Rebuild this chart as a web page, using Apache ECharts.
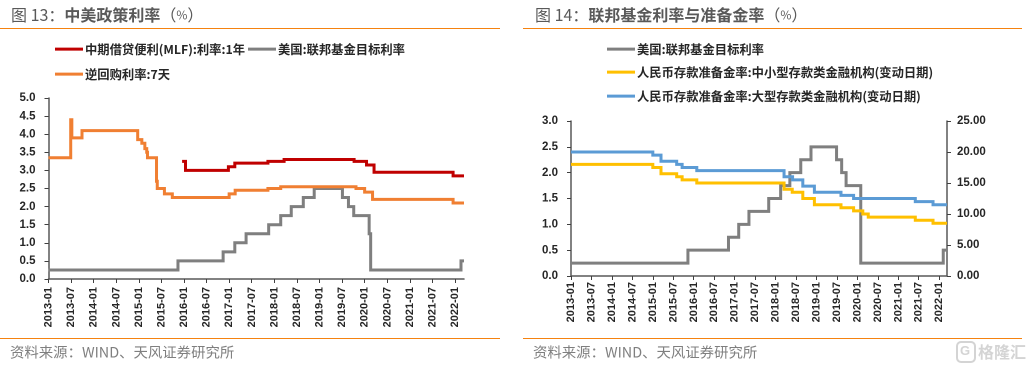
<!DOCTYPE html>
<html><head><meta charset="utf-8">
<style>html,body{margin:0;padding:0;background:#fff}#c{width:1031px;height:368px}</style>
<script src="https://cdn.jsdelivr.net/npm/echarts@6/dist/echarts.min.js"></script>
</head><body><div id="c"></div>
<script>
// Tick labels (one every six months)
const xTickLabels = ['2013-01','2013-07','2014-01','2014-07','2015-01','2015-07','2016-01','2016-07','2017-01','2017-07','2018-01','2018-07','2019-01','2019-07','2020-01','2020-07','2021-01','2021-07','2022-01'];
const xTickPositions = xTickLabels.map(l => (+l.slice(0,4) - 2013) * 12 + (+l.slice(5) - 1));

// Step series: [months since 2013-01, value]
const mlf = [[35.5,3.25],[36.4,3.0],[47.8,3.1],[49.5,3.2],[58.3,3.25],[62.6,3.3],[81.2,3.25],[84.5,3.15],[86.5,2.95],[107.5,2.85],[110.4,2.85]];
const fedLeft = [[0,0.25],[34.4,0.5],[46.4,0.75],[49.5,1.0],[52.5,1.25],[58.5,1.5],[61.7,1.75],[64.5,2.0],[67.7,2.25],[70.6,2.5],[78.1,2.25],[79.7,2.0],[81.1,1.75],[85.2,1.25],[85.6,0.25],[109.6,0.5],[110.4,0.5]];
const repo = [[0,3.35],[5.9,4.4],[6.2,3.9],[8.9,4.1],[23.7,3.85],[24.8,3.75],[25.6,3.6],[26.1,3.5],[26.3,3.35],[28.7,2.7],[28.9,2.5],[30.8,2.35],[32.9,2.25],[48,2.35],[49.6,2.45],[58.3,2.5],[61.7,2.55],[81.7,2.5],[84,2.4],[86.1,2.2],[107.5,2.1],[110.4,2.1]];
const fedRight = [[0,0.25],[34.3,0.5],[46.2,0.75],[49.2,1.0],[52.2,1.25],[58,1.5],[61.5,1.75],[64.2,2.0],[67.4,2.25],[70.4,2.5],[77.9,2.25],[79.4,2.0],[80.7,1.75],[85,0.25],[109.2,0.5],[110.3,0.5]];
const rrrSmall = [[0,18],[24,17.5],[26.4,16.5],[31,16],[32.6,15.5],[36.9,15],[62.5,14],[64.9,13.5],[68,12.5],[71.4,11.5],[79.2,11],[82.9,10.5],[85.6,10],[87.2,9.5],[101,9],[106.2,8.5],[110.3,8.5]];
const rrrLarge = [[0,20],[24,19.5],[26.4,18.5],[31,18],[32.6,17.5],[36.9,17],[62.5,16],[65,15.5],[68,14.5],[71.4,13.5],[79.2,13],[82.9,12.5],[101,12],[106.2,11.5],[110.3,11.5]];

const names = {
  mlf:'中期借贷便利(MLF):利率:1年', fed:'美国:联邦基金目标利率', repo:'逆回购利率:7天',
  small:'人民币存款准备金率:中小型存款类金融机构(变动日期)', large:'人民币存款准备金率:大型存款类金融机构(变动日期)'
};
const colors = {red:'#c00000', gray:'#7f7f7f', orange:'#f07f32', yellow:'#ffc000', blue:'#5b9bd5'};

const LABEL_FONT = '"Liberation Sans","Noto Sans CJK SC",sans-serif';
const CJK = '"Noto Sans CJK SC","Liberation Sans",sans-serif';
const axisLine = {show:true, onZero:false, lineStyle:{color:'#595959', width:1.5}};

function xAxis(gridIndex, max, margin){
  return {type:'value', gridIndex, min:0, max, splitLine:{show:false},
    axisLine, axisTick:{show:true, length:4, lineStyle:{color:'#404040'}, customValues:xTickPositions},
    axisLabel:{rotate:90, margin, fontFamily:LABEL_FONT, fontSize:11, fontWeight:'bold', color:'#262626',
      customValues:xTickPositions,
      formatter:v => xTickLabels[xTickPositions.indexOf(v)] || ''}};
}
function yAxis(gridIndex, max, interval, digits, position){
  return {type:'value', gridIndex, min:0, max, interval, position, splitLine:{show:false},
    axisLine, axisTick:{show:true, length:4, lineStyle:{color:'#404040'}},
    axisLabel:{margin:position==='right'?10:13, fontFamily:LABEL_FONT, fontSize:11.5, fontWeight:'bold', color:'#262626',
      formatter:v => v.toFixed(digits)}};
}
// A custom series keeps the small 0.05 steps that the built-in line series merges into slopes.
function line(name, data, color, xi, yi, z){
  return {type:'custom', name, data, xAxisIndex:xi, yAxisIndex:yi, z, clip:false,
    encode:{x:0, y:1}, itemStyle:{color},
    renderItem(params, api){
      if (params.dataIndex !== 0) return null;
      const points = [];
      data.forEach((d, i) => {
        points.push(api.coord(d));
        if (i < data.length - 1) points.push(api.coord([data[i+1][0], d[1]]));
      });
      return {type:'polyline', shape:{points},
        style:{stroke:color, fill:null, lineWidth:3, lineJoin:'miter', lineCap:'butt'}};
    }};
}
function legend(items, left, top){
  return {data:items, left, top, orient:'horizontal', padding:0, itemGap:2, itemWidth:28, itemHeight:3,
    icon:'rect', textStyle:{fontFamily:CJK, fontSize:12.3, fontWeight:'bold', color:'#262626', padding:[0,0,0,-3]}};
}
function titleText(text, left){
  return {text, left, top:7, padding:0, textStyle:{fontFamily:CJK, rich:{
    a:{fontFamily:CJK, fontSize:16, fontWeight:'normal', color:'#595959'},
    b:{fontFamily:CJK, fontSize:16, fontWeight:'bold', color:'#595959'},
    c:{fontFamily:CJK, fontSize:12, fontWeight:'normal', color:'#595959'}}}};
}
function sourceText(left){
  return {text:'资料来源：WIND、天风证券研究所', left, top:345, padding:0,
    textStyle:{fontFamily:CJK, fontSize:14.4, fontWeight:'normal', color:'#7f7f7f'}};
}
function rule(x1, x2, y){
  return {type:'line', shape:{x1, y1:y, x2, y2:y}, style:{stroke:'#f5820f', lineWidth:1}, silent:true};
}

const chart = echarts.init(document.getElementById('c'), null, {renderer:'canvas', devicePixelRatio:2});
chart.setOption({
  animation:false, backgroundColor:'#fff',
  title:[
    titleText('{a|图 13：}{b|中美政策利率}{a|（}{c|%}{a|）}', 11),
    titleText('{a|图 14：}{b|联邦基金利率与准备金率}{a|（}{c|%}{a|）}', 535),
    sourceText(10), sourceText(533)
  ],
  legend:[
    legend([names.mlf], 55, 43),
    legend([names.fed], 248, 43),
    legend([names.repo], 55, 68),
    legend([names.fed+' '], 607, 43),
    legend([names.small], 607, 66),
    legend([names.large], 607, 90)
  ],
  grid:[
    {left:48.5, top:98, width:415.5, height:181},
    {left:571, top:121, width:376, height:155}
  ],
  xAxis:[xAxis(0,110.4,8), xAxis(1,110.3,6)],
  yAxis:[yAxis(0,5,0.5,1,'left'), yAxis(1,3,0.5,1,'left'), yAxis(1,25,5,2,'right')],
  series:[
    line(names.mlf, mlf, colors.red, 0, 0, 2),
    line(names.fed, fedLeft, colors.gray, 0, 0, 3),
    line(names.repo, repo, colors.orange, 0, 0, 4),
    line(names.fed+' ', fedRight, colors.gray, 1, 1, 2),
    line(names.small, rrrSmall, colors.yellow, 1, 2, 3),
    line(names.large, rrrLarge, colors.blue, 1, 2, 4)
  ],
  graphic:[
    rule(0,500,28.5), rule(523,1022,28.5), rule(0,500,338.5), rule(523,1022,338.5),
    {type:'rect', shape:{x:957,y:342,width:18,height:20,r:4}, style:{fill:'none',stroke:'#d4d4d4',lineWidth:2}, silent:true},
    {type:'text', x:960, y:345, style:{text:'G', font:'bold 13px "Liberation Sans"', fill:'#d4d4d4'}, silent:true},
    {type:'text', x:978, y:344, style:{text:'格隆汇', font:'bold 16px "Noto Sans CJK SC"', fill:'#d4d4d4'}, silent:true}
  ]
});
</script></body></html>
